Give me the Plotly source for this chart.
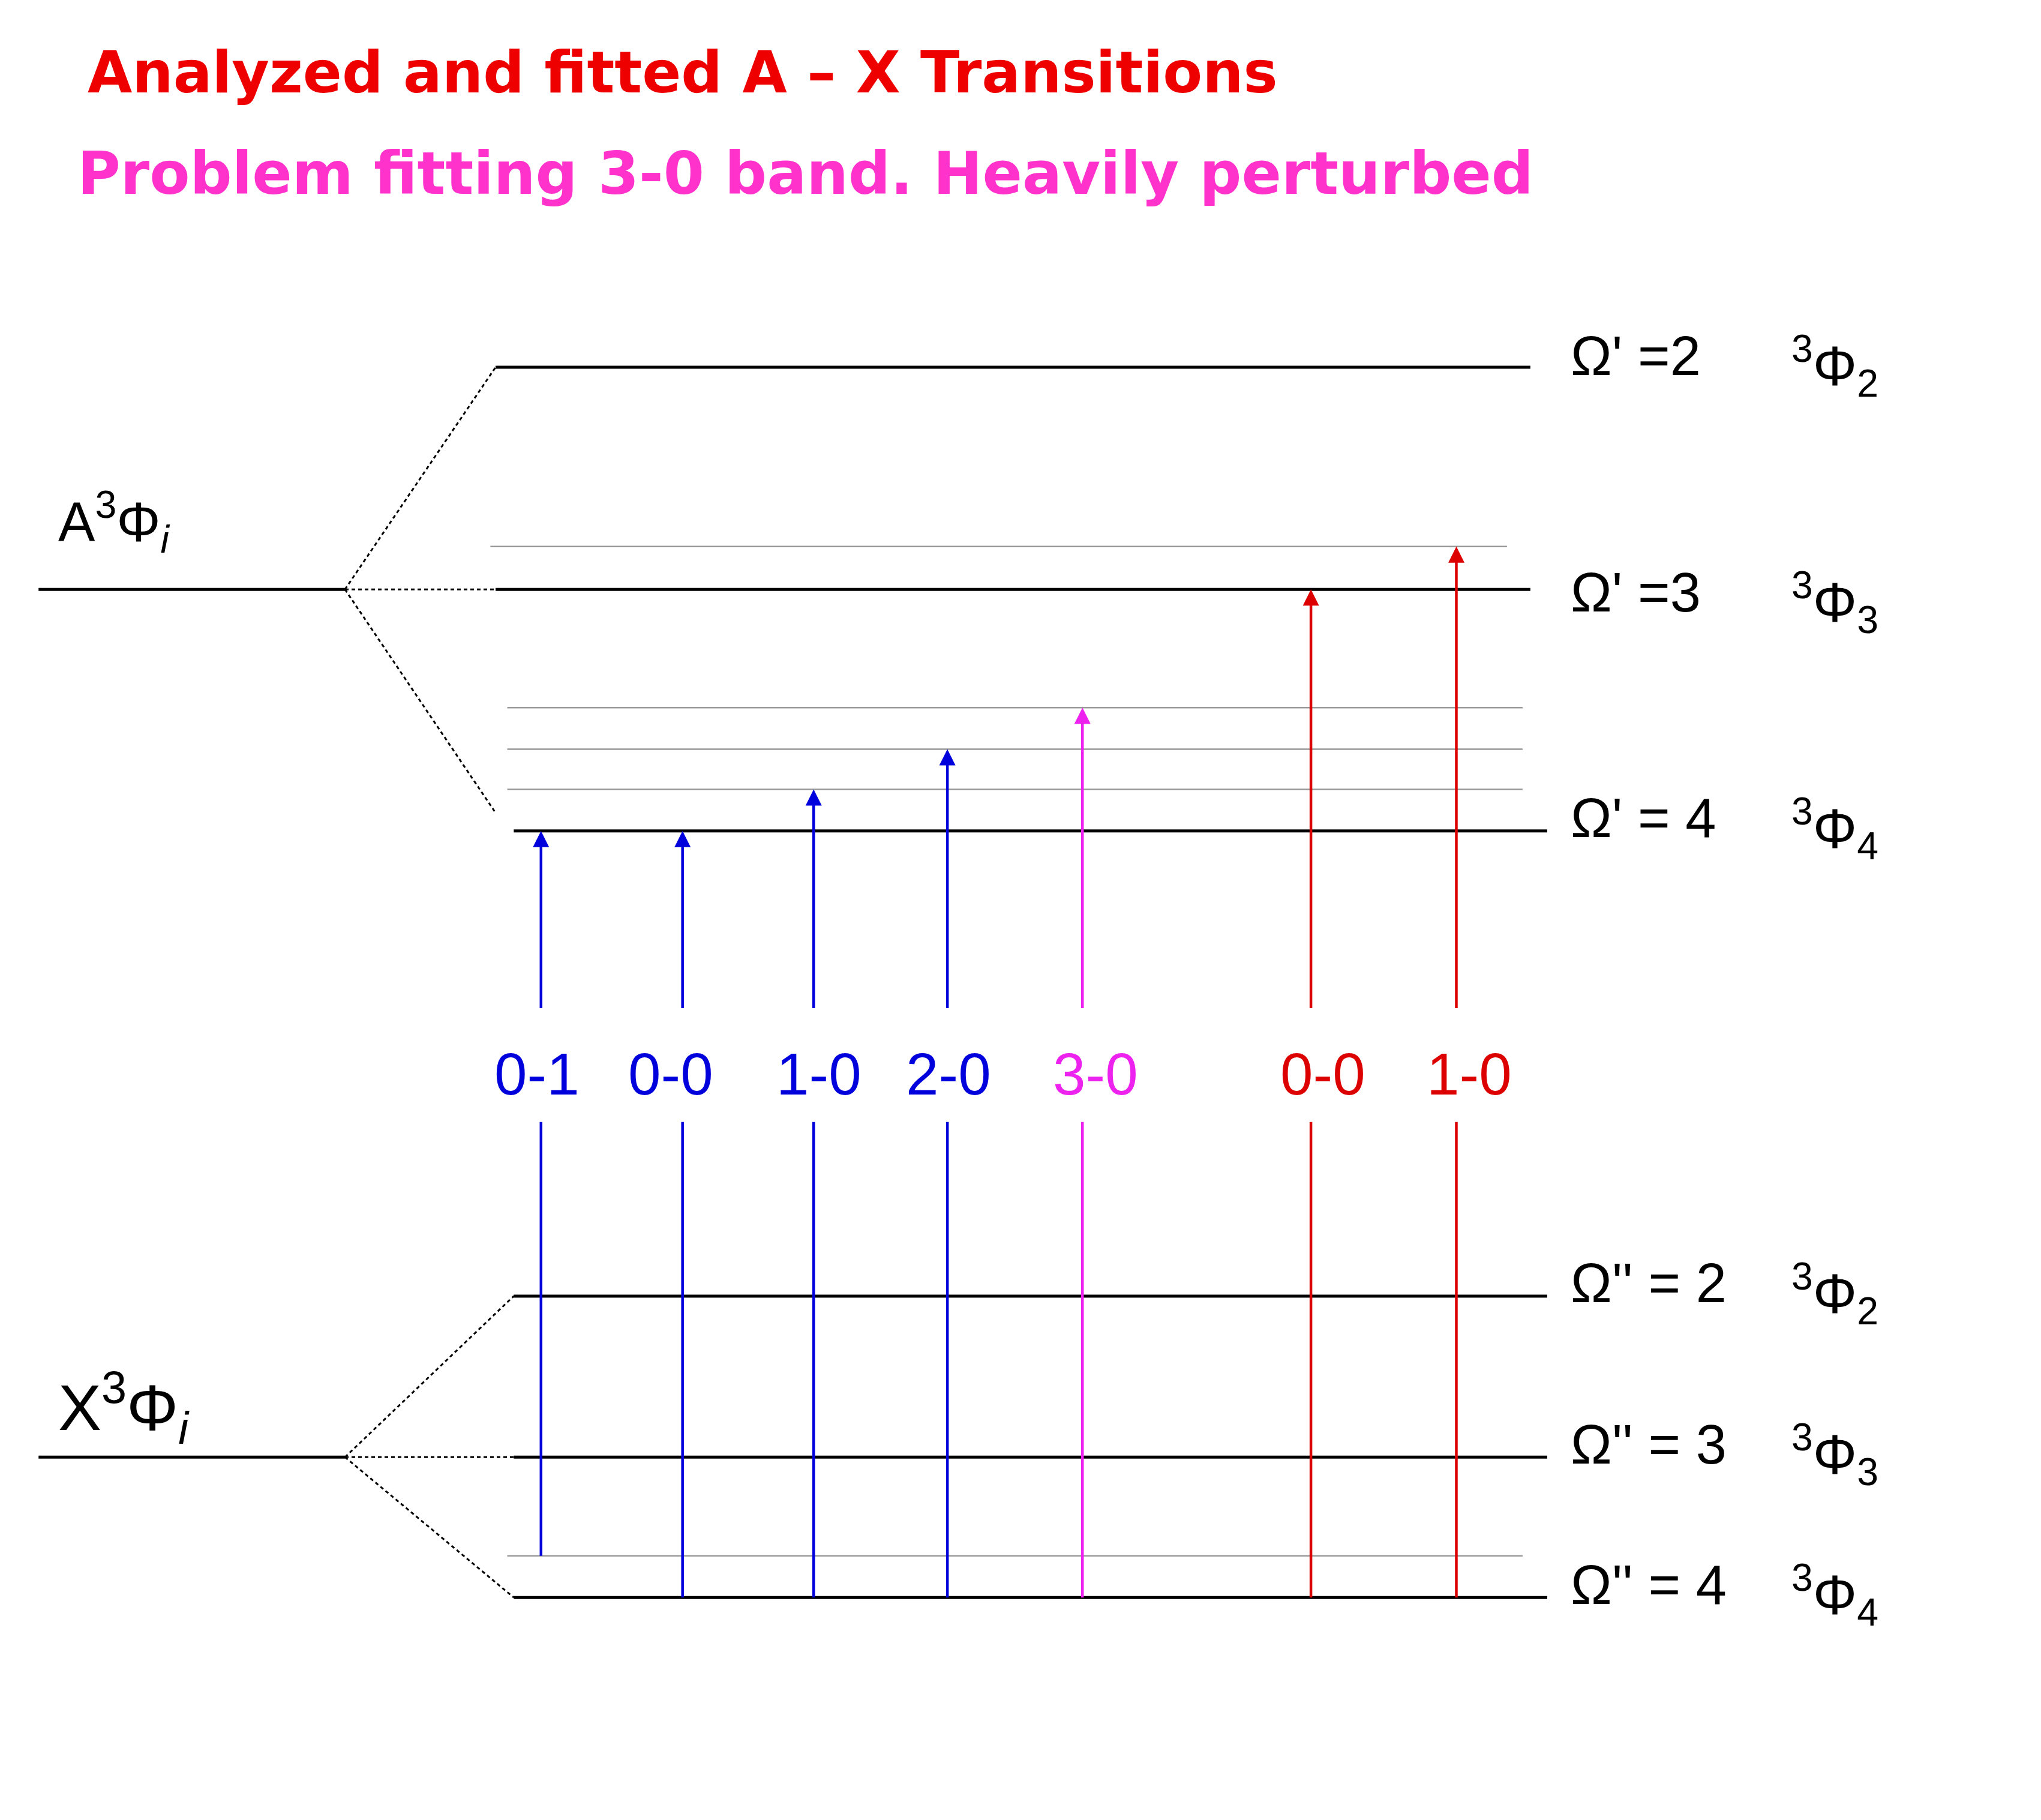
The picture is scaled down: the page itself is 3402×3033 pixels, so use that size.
import plotly.graph_objects as go

# reference drawn in a ~1550 x 1382 coordinate frame (y downward)
W, H = 1572, 1401

# energy levels: (y, x0, x1)
upper_levels = [(279, 378, 1175), (450, 378, 1175), (636, 392, 1188)]
upper_gray = [(417, 374, 1157), (541, 387, 1169), (573, 387, 1169), (604, 387, 1169)]
lower_levels = [(994, 392, 1188), (1118, 392, 1188), (1226, 392, 1188)]
lower_gray = [(1194, 387, 1169)]
state_lines = [(450, 26, 262), (1118, 26, 262)]
dotted = [((262, 450), (378, 279)), ((262, 450), (378, 450)), ((262, 450), (378, 622)),
          ((262, 1118), (392, 994)), ((262, 1118), (392, 1118)), ((262, 1118), (392, 1226))]

# transitions
tr_x = [413, 522, 623, 726, 830, 1006, 1118]
tr_label = ["0-1", "0-0", "1-0", "2-0", "3-0", "0-0", "1-0"]
tr_label_x = [410, 513, 627, 727, 840, 1015, 1128]
tr_color = ["#0000DD"] * 4 + ["#EE22EE"] + ["#DD0000"] * 2
tr_low = [1194, 1226, 1226, 1226, 1226, 1226, 1226]
tr_up = [636, 636, 604, 573, 541, 450, 417]

right_labels = ["Ω' =2", "Ω' =3", "Ω' = 4", "Ω'' = 2", "Ω'' = 3", "Ω'' = 4"]
right_y = [270, 452, 626, 984, 1108, 1216]
right_terms = ["2", "3", "4", "2", "3", "4"]

fig = go.Figure()

def seg(x0, y0, x1, y1, color, width, dash="solid"):
    fig.add_trace(go.Scatter(x=[x0, x1], y=[y0, y1], mode="lines",
                             line=dict(color=color, width=width, dash=dash),
                             showlegend=False, hoverinfo="skip"))

for y, a, b in upper_levels + lower_levels + state_lines:
    seg(a, y, b, y, "black", 5)
for y, a, b in upper_gray + lower_gray:
    seg(a, y, b, y, "#999999", 2.5)
for (a, b) in dotted:
    seg(a[0], a[1], b[0], b[1], "black", 3, "6px,5px")

for x, c, lo, up in zip(tr_x, tr_color, tr_low, tr_up):
    seg(x, 860, x, lo, c, 4.5)
    fig.add_annotation(x=x, y=up, ax=x, ay=773, xref="x", yref="y", axref="x", ayref="y",
                       text="", showarrow=True, arrowhead=2, arrowsize=1.2,
                       arrowwidth=4.5, arrowcolor=c)

FONT = "Liberation Sans, Arial, sans-serif"
for x, t, c in zip(tr_label_x, tr_label, tr_color):
    fig.add_annotation(x=x, y=823, text=t, showarrow=False, xref="x", yref="y",
                       font=dict(family=FONT, size=98, color=c))

for t, y, n in zip(right_labels, right_y, right_terms):
    fig.add_annotation(x=1205, y=y, text=t, showarrow=False, xanchor="left",
                       font=dict(family=FONT, size=92, color="black"))
    fig.add_annotation(x=1375, y=y + 8, text=f"<sup>3</sup>Φ<sub>{n}</sub>", showarrow=False,
                       xanchor="left", font=dict(family=FONT, size=92, color="black"))

fig.add_annotation(x=40, y=398, text="A<sup>3</sup>Φ<sub><i>i</i></sub>", showarrow=False,
                   xanchor="left", font=dict(family=FONT, size=92, color="black"))
fig.add_annotation(x=40, y=1080, text="X<sup>3</sup>Φ<sub><i>i</i></sub>", showarrow=False,
                   xanchor="left", font=dict(family=FONT, size=108, color="black"))

TFONT = "DejaVu Sans, Verdana, sans-serif"
fig.add_annotation(x=63, y=52, text="<b>Analyzed and fitted A – X Transitions</b>",
                   showarrow=False, xanchor="left",
                   font=dict(family=TFONT, size=96, color="#EE0000"))
fig.add_annotation(x=55, y=130, text="<b>Problem fitting 3-0 band. Heavily perturbed</b>",
                   showarrow=False, xanchor="left",
                   font=dict(family=TFONT, size=98, color="#FF33CC"))

fig.update_layout(
    width=3402, height=3033, margin=dict(l=0, r=0, t=0, b=0),
    plot_bgcolor="white", paper_bgcolor="white",
    xaxis=dict(range=[0, W], visible=False, fixedrange=True),
    yaxis=dict(range=[H, 0], visible=False, fixedrange=True),
)
fig.write_html("out.html")
